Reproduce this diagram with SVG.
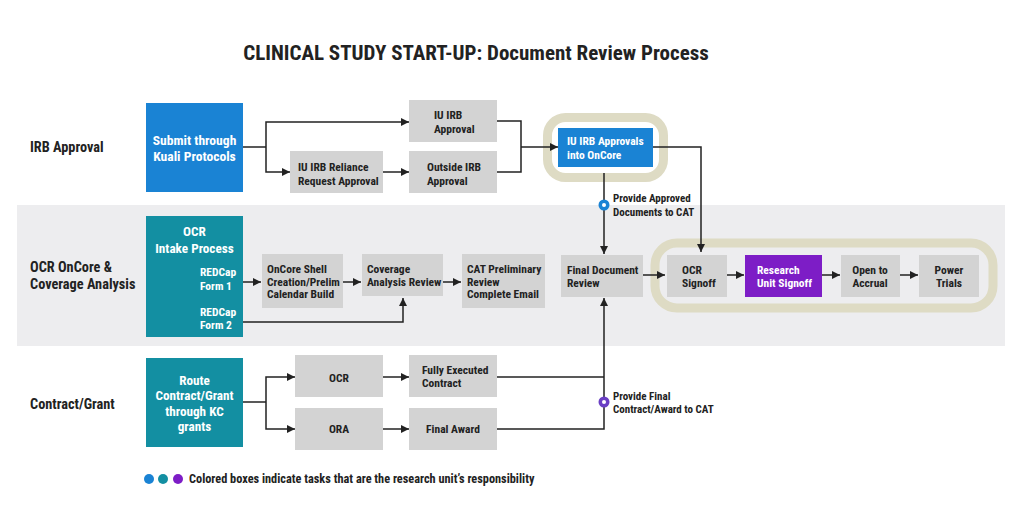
<svg xmlns="http://www.w3.org/2000/svg" width="1024" height="524" viewBox="0 0 1024 524">
<defs>
<marker id="ah" viewBox="0 0 10 10" refX="10" refY="5" markerWidth="8" markerHeight="8" markerUnits="userSpaceOnUse" orient="auto">
<path d="M0,0 L10,5 L0,10 z" fill="#222"/>
</marker>
<style>
text{font-family:"Liberation Sans Narrow","Roboto Condensed","Liberation Sans",Arial,sans-serif;font-weight:bold;fill:#222}
.t{font-size:11.5px}
.w{fill:#fff}
.big{font-size:13.2px}
.lab{font-size:14.3px}
.g{fill:#d3d3d3}
.blue{fill:#1a83d4}
.teal{fill:#138fa2}
.purple{fill:#7d1dc6}
.ring{fill:none;stroke:#dedbc4;stroke-width:9}
.c{fill:none;stroke:#222;stroke-width:1.5}
.ca{fill:none;stroke:#222;stroke-width:1.5;marker-end:url(#ah)}
.mid{text-anchor:middle}
</style>
</defs>
<rect width="1024" height="524" fill="#fff"/>
<rect x="17" y="205" width="988" height="141" fill="#ededef"/>
<text x="476" y="60" class="mid" style="font-size:21px">CLINICAL STUDY START-UP: Document Review Process</text>

<g id="row-labels">
<text x="30" y="152" class="lab">IRB Approval</text>
<text x="30" y="272" class="lab">OCR OnCore &amp;</text>
<text x="30" y="289" class="lab">Coverage Analysis</text>
<text x="30" y="409" class="lab">Contract/Grant</text>
</g>

<rect class="ring" x="547.5" y="117.5" width="116" height="60" rx="18"/>
<rect class="ring" x="655" y="243" width="338" height="65" rx="22"/>

<g id="connectors">
<path class="c" d="M243,147 H266"/>
<path class="ca" d="M266,147 V122 H409"/>
<path class="ca" d="M266,147 V172 H290"/>
<path class="ca" d="M383,172 H409"/>
<path class="c" d="M497,121 H521 V172 H497"/>
<path class="ca" d="M521,147 H558"/>
<path class="ca" d="M653,147 H701 V252"/>
<path class="ca" d="M604,173 V254"/>
<path class="ca" d="M243,282 H261"/>
<path class="ca" d="M343,282 H361"/>
<path class="ca" d="M443,282 H461"/>
<path class="ca" d="M243,322 H403 V298"/>
<path class="ca" d="M643,275 H665"/>
<path class="ca" d="M727,275 H744"/>
<path class="ca" d="M822,275 H840"/>
<path class="ca" d="M900,275 H918"/>
<path class="c" d="M243,402 H266"/>
<path class="ca" d="M266,402 V377 H295"/>
<path class="ca" d="M266,402 V429 H295"/>
<path class="ca" d="M383,377 H409"/>
<path class="ca" d="M383,429 H409"/>
<path class="c" d="M497,377 H604"/>
<path class="ca" d="M497,429 H604 V298"/>
<circle cx="604" cy="205" r="5.5" fill="#1a83d4"/>
<circle cx="604" cy="205" r="2" fill="#fff"/>
<circle cx="604" cy="402" r="5.5" fill="#6a3fc4"/>
<circle cx="604" cy="402" r="2" fill="#fff"/>
<text x="613" y="202" class="t" style="font-size:11px">Provide Approved</text>
<text x="613" y="216" class="t" style="font-size:11px">Documents to CAT</text>
<text x="613" y="400" class="t" style="font-size:11px">Provide Final</text>
<text x="613" y="413" class="t" style="font-size:11px">Contract/Award to CAT</text>
</g>

<g id="kuali">
<rect class="blue" x="146" y="103" width="97" height="89"/>
<text x="194.5" y="145" class="mid w" style="font-size:13.6px">Submit through</text>
<text x="194.5" y="161" class="mid w" style="font-size:13.6px">Kuali Protocols</text>
</g>
<g id="iu-irb-approval">
<rect class="g" x="409" y="100" width="88" height="42"/>
<text x="434" y="119" class="t">IU IRB</text>
<text x="434" y="133" class="t">Approval</text>
</g>
<g id="reliance">
<rect class="g" x="290" y="151" width="93" height="42"/>
<text x="298" y="171" class="t">IU IRB Reliance</text>
<text x="298" y="185" class="t">Request Approval</text>
</g>
<g id="outside-irb">
<rect class="g" x="409" y="151" width="88" height="42"/>
<text x="427" y="171" class="t">Outside IRB</text>
<text x="427" y="185" class="t">Approval</text>
</g>
<g id="oncore-approvals">
<rect class="blue" x="558" y="128" width="95" height="39"/>
<text x="567" y="145" class="t w">IU IRB Approvals</text>
<text x="567" y="159" class="t w">into OnCore</text>
</g>

<g id="ocr-intake">
<rect class="teal" x="146" y="216" width="97" height="121"/>
<text x="194.5" y="236" class="mid w big">OCR</text>
<text x="194.5" y="253" class="mid w big">Intake Process</text>
<text x="200" y="276" class="t w">REDCap</text>
<text x="200" y="290" class="t w">Form 1</text>
<text x="200" y="316" class="t w">REDCap</text>
<text x="200" y="329" class="t w">Form 2</text>
</g>
<g id="oncore-shell">
<rect class="g" x="262" y="254" width="81" height="54"/>
<text x="267" y="273" class="t">OnCore Shell</text>
<text x="267" y="286" class="t">Creation/Prelim</text>
<text x="267" y="298" class="t">Calendar Build</text>
</g>
<g id="coverage">
<rect class="g" x="362" y="254" width="81" height="42"/>
<text x="367" y="273" class="t">Coverage</text>
<text x="367" y="286" class="t">Analysis Review</text>
</g>
<g id="cat-prelim">
<rect class="g" x="462" y="254" width="83" height="54"/>
<text x="467" y="273" class="t">CAT Preliminary</text>
<text x="467" y="286" class="t">Review</text>
<text x="467" y="298" class="t">Complete Email</text>
</g>
<g id="final-doc">
<rect class="g" x="561" y="255" width="82" height="42"/>
<text x="567" y="274" class="t">Final Document</text>
<text x="567" y="287" class="t">Review</text>
</g>
<g id="ocr-signoff">
<rect class="g" x="667" y="255" width="60" height="42"/>
<text x="682" y="274" class="t">OCR</text>
<text x="682" y="287" class="t">Signoff</text>
</g>
<g id="research-signoff">
<rect class="purple" x="745" y="255" width="77" height="42"/>
<text x="757" y="274" class="t w">Research</text>
<text x="757" y="287" class="t w">Unit Signoff</text>
</g>
<g id="open-accrual">
<rect class="g" x="841" y="255" width="59" height="42"/>
<text x="870" y="274" class="t mid">Open to</text>
<text x="870" y="287" class="t mid">Accrual</text>
</g>
<g id="power-trials">
<rect class="g" x="919" y="255" width="60" height="42"/>
<text x="949" y="274" class="t mid">Power</text>
<text x="949" y="287" class="t mid">Trials</text>
</g>

<g id="route">
<rect class="teal" x="146" y="358" width="97" height="89"/>
<text x="194.5" y="385" class="mid w big">Route</text>
<text x="194.5" y="400" class="mid w big">Contract/Grant</text>
<text x="194.5" y="416" class="mid w big">through KC</text>
<text x="194.5" y="431" class="mid w big">grants</text>
</g>
<g id="ocr">
<rect class="g" x="295" y="355" width="88" height="42"/>
<text x="339" y="382" class="t mid">OCR</text>
</g>
<g id="fully-executed">
<rect class="g" x="409" y="355" width="88" height="42"/>
<text x="422" y="374" class="t">Fully Executed</text>
<text x="422" y="387" class="t">Contract</text>
</g>
<g id="ora">
<rect class="g" x="295" y="408" width="88" height="42"/>
<text x="339" y="433" class="t mid">ORA</text>
</g>
<g id="final-award">
<rect class="g" x="409" y="408" width="88" height="42"/>
<text x="453" y="433" class="t mid">Final Award</text>
</g>

<g id="legend">
<circle cx="149" cy="479" r="5" fill="#1a83d4"/>
<circle cx="163" cy="479" r="5" fill="#138fa2"/>
<circle cx="178" cy="479" r="5" fill="#7d1dc6"/>
<text x="189" y="483" style="font-size:12.3px">Colored boxes indicate tasks that are the research unit’s responsibility</text>
</g>
</svg>
